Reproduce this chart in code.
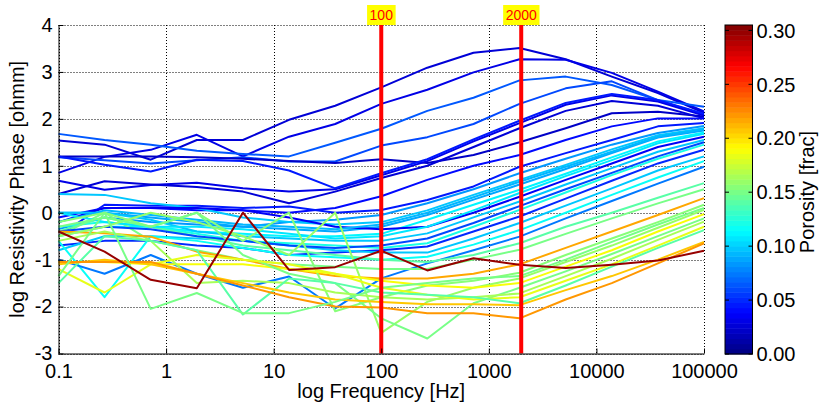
<!DOCTYPE html>
<html>
<head>
<meta charset="utf-8">
<script src="https://cdn.jsdelivr.net/npm/d3@7"></script>
<style>
  body { margin: 0; background: #fff; }
  svg { display: block; font-family: Arial, "Liberation Sans", sans-serif; }
</style>
</head>
<body>
<div id="wrapper"></div>
<script>
const { select, scaleLog, scaleLinear, line, axisLeft, axisBottom, format } = d3;

/* DATA */
const frequencies = [0.1, 0.268, 0.72, 1.93, 5.18, 13.9, 37.3, 100, 268, 720, 1930, 5180, 13900, 37300, 100000];

// upper group: high-phase samples, low porosity
const upperPorosity = [0.025, 0.03, 0.065, 0.06, 0.02, 0.03, 0.025, 0.045];
const upperValues = [
  [1.54, 1.45, 1.13, 1.55, 1.55, 1.98, 2.28, 2.67, 3.09, 3.41, 3.51, 3.27, 2.90, 2.55, 2.13],
  [0.85, 1.19, 1.34, 1.66, 1.2, 1.62, 1.89, 2.32, 2.62, 2.99, 3.27, 3.26, 2.98, 2.58, 2.16],
  [1.68, 1.55, 1.45, 1.32, 1.25, 1.2, 1.49, 1.79, 2.17, 2.45, 2.82, 2.9, 2.72, 2.4, 2.26],
  [1.18, 1.12, 1.05, 1.12, 1.18, 1.09, 1.09, 1.43, 1.61, 1.89, 2.32, 2.65, 2.80, 2.4, 2.09],
  [1.2, 1.2, 1.2, 1.18, 1.15, 1.1, 1.06, 1.14, 1.06, 1.23, 1.5, 1.8, 2.12, 2.15, 2.05],
  [0.68, 0.49, 0.59, 0.64, 0.52, 0.45, 0.5, 0.8, 1.1, 1.52, 1.91, 2.3, 2.5, 2.37, 2.07],
  [0.4, 0.67, 0.6, 0.55, 0.45, 0.2, 0.45, 0.74, 1.0, 1.4, 1.8, 2.17, 2.38, 2.28, 2.01],
  [1.2, 1.02, 0.88, 1.13, 1.1, 0.9, 0.52, 0.84, 1.14, 1.56, 1.96, 2.34, 2.53, 2.4, 2.11],
];

// middle group: blue / cyan samples
const middlePorosity = [0.04, 0.045, 0.085, 0.1, 0.09, 0.11, 0.035, 0.1, 0.12, 0.05, 0.1, 0.115, 0.075, 0.14, 0.15, 0.105, 0.095, 0.06];
const middleValues = [
  [-0.1, 0.1, 0.1, 0.05, 0.05, 0.0, 0.1, 0.35, 0.7, 1.0, 1.23, 1.55, 1.84, 2.01, 2.01],
  [-0.5, 0.17, 0.15, 0.15, 0.1, 0.13, 0.0, 0.06, 0.27, 0.56, 0.98, 1.27, 1.55, 1.84, 1.91],
  [-0.35, -0.1, -0.2, -0.25, -0.3, -0.2, -0.15, -0.05, 0.2, 0.5, 0.84, 1.15, 1.45, 1.7, 1.85],
  [0.4, 0.38, 0.2, 0.1, -0.1, -0.2, -0.25, -0.2, 0.05, 0.38, 0.7, 1.02, 1.35, 1.65, 1.8],
  [0.0, 0.0, -0.1, -0.2, -0.3, -0.35, -0.4, -0.3, -0.05, 0.28, 0.6, 0.93, 1.27, 1.6, 1.75],
  [-0.5, -0.3, -0.3, -0.4, -0.45, -0.5, -0.5, -0.45, -0.15, 0.17, 0.49, 0.83, 1.18, 1.52, 1.71],
  [-0.2, 0.1, 0.1, 0.1, 0.05, -0.1, -0.3, -0.35, -0.3, 0.0, 0.34, 0.7, 1.05, 1.4, 1.62],
  [0.0, 0.0, -0.15, -0.4, -0.5, -0.55, -0.6, -0.6, -0.44, -0.1, 0.24, 0.6, 0.95, 1.3, 1.55],
  [-0.3, -0.2, -0.3, -0.45, -0.6, -0.65, -0.7, -0.75, -0.65, -0.3, 0.06, 0.43, 0.8, 1.15, 1.45],
  [-0.7, -0.6, -0.6, -0.7, -0.75, -0.9, -0.85, -0.8, -0.72, -0.4, -0.08, 0.3, 0.68, 1.05, 1.34],
  [-0.8, -0.5, -0.5, -0.55, -0.6, -0.7, -0.8, -0.85, -0.85, -0.55, -0.22, 0.15, 0.52, 0.9, 1.2],
  [-0.6, -1.8, -0.5, -0.6, -0.75, -0.9, -0.95, -1.0, -0.94, -0.68, -0.37, 0.0, 0.38, 0.75, 1.1],
  [-1.0, -1.3, -0.9, -1.3, -1.6, -1.36, -2.04, -1.4, -1.08, -0.8, -0.51, -0.12, 0.25, 0.62, 0.98],
  [-0.4, -0.1, -0.3, -0.5, -0.7, -0.8, -0.9, -1.0, -1.05, -0.9, -0.65, -0.3, 0.0, 0.32, 0.63],
  [-0.5, 0.0, -0.6, -0.8, -1.0, -1.1, -1.15, -1.2, -1.2, -1.0, -0.79, -0.45, -0.12, 0.2, 0.5],
  [0.0, -0.2, -0.3, -0.3, -0.35, -0.45, -0.55, -0.5, -0.3, 0.05, 0.42, 0.78, 1.12, 1.48, 1.68],
  [-0.2, 0.05, -0.05, -0.15, -0.25, -0.3, -0.35, -0.25, 0.0, 0.33, 0.66, 0.98, 1.3, 1.62, 1.78],
  [-0.4, -0.3, -0.35, -0.5, -0.6, -0.7, -0.75, -0.7, -0.55, -0.22, 0.14, 0.5, 0.85, 1.2, 1.5],
];

// lower group: green / yellow / orange / red samples
const lowerPorosity = [0.215, 0.155, 0.16, 0.19, 0.15, 0.165, 0.185, 0.14, 0.205, 0.22, 0.15, 0.30];
const lowerValues = [
  [-0.4, -0.44, -0.51, -0.83, -1.0, -1.2, -1.35, -1.4, -1.4, -1.3, -1.1, -0.75, -0.4, -0.05, 0.31],
  [-0.2, 0.0, -0.3, 0.0, -0.6, 0.0, -2.1, -1.8, -1.55, -1.45, -1.28, -0.9, -0.55, -0.2, 0.17],
  [-0.5, -0.3, 0.0, -0.2, -0.5, -0.9, 0.0, -2.56, -1.9, -1.6, -1.4, -1.05, -0.7, -0.32, 0.06],
  [-1.05, -1.05, -1.1, -1.1, -1.1, -1.2, -1.3, -1.45, -1.55, -1.6, -1.5, -1.15, -0.8, -0.4, -0.03],
  [-0.3, -0.1, -0.3, 0.0, -0.9, -1.3, -1.5, -2.25, -2.68, -1.93, -1.6, -1.25, -0.88, -0.5, -0.12],
  [-0.6, -0.4, -0.6, -1.5, -1.45, -1.5, -1.7, -1.8, -1.85, -1.8, -1.72, -1.35, -0.98, -0.58, -0.19],
  [-1.2, -1.7, -1.1, -0.9, -1.0, -1.1, -1.3, -1.6, -1.75, -1.85, -1.8, -1.45, -1.1, -0.7, -0.3],
  [-1.5, -0.5, -0.6, -0.8, -2.17, -1.4, -1.5, -1.7, -1.75, -1.8, -1.93, -1.55, -1.15, -0.75, -0.37],
  [-1.1, -1.0, -1.1, -1.3, -1.5, -1.7, -1.85, -1.9, -1.95, -1.95, -1.97, -1.65, -1.35, -1.0, -0.62],
  [-1.05, -1.05, -1.05, -1.3, -1.55, -1.8, -2.0, -2.02, -2.14, -2.14, -2.25, -1.85, -1.5, -1.08, -0.65],
  [-1.35, 0.0, -2.05, -1.71, -2.14, -2.14, -1.9, -1.6, -1.5, -1.4, -1.35, -1.0, -0.62, -0.25, 0.1],
  [-0.4, -0.83, -1.43, -1.61, 0.0, -1.22, -1.16, -0.81, -1.23, -0.97, -1.11, -1.18, -1.11, -1.02, -0.81],
];

const xTicks = [0.1, 1, 10, 100, 1000, 10000, 100000];
const xTickLabels = ["0.1", "1", "10", "100", "1000", "10000", "100000"];
const yTicks = [-3, -2, -1, 0, 1, 2, 3, 4];
const colorTicks = [0, 0.05, 0.1, 0.15, 0.2, 0.25, 0.3];
const markerFreqs = [100, 2000];
const markerLabels = ["100", "2000"];

/* DIMENSIONS */
const dimensions = {
  width: 820,
  height: 404,
  plot: { left: 58.5, right: 704, top: 25, bottom: 353.5 },
  bar: { left: 725, right: 752.5, top: 25, bottom: 354 },
};

/* SCALES */
const xScale = scaleLog()
  .domain([0.1, 100000])
  .range([dimensions.plot.left, dimensions.plot.right]);

const yScale = scaleLinear()
  .domain([-3, 4])
  .range([dimensions.plot.bottom, dimensions.plot.top]);

const colorMax = 0.305;
const jet = (t) => {
  const c = (v) => Math.round(255 * Math.max(0, Math.min(1, v)));
  return `rgb(${c(1.5 - Math.abs(4 * t - 3))},${c(1.5 - Math.abs(4 * t - 2))},${c(1.5 - Math.abs(4 * t - 1))})`;
};
// matlab style 64-level jet
const colorScale = (p) => {
  const idx = Math.min(63, Math.floor((p / colorMax) * 64));
  return jet((idx + 0.5) / 64);
};

const barScale = scaleLinear()
  .domain([0, colorMax])
  .range([dimensions.bar.bottom, dimensions.bar.top]);

/* DRAW */
const svg = select("#wrapper")
  .append("svg")
  .attr("width", dimensions.width)
  .attr("height", dimensions.height);

// grid
const grid = svg.append("g")
  .attr("stroke", "#000")
  .attr("stroke-width", 1)
  .attr("stroke-dasharray", "1,2");

grid.selectAll(".vgrid")
  .data(xTicks)
  .join("line")
  .attr("x1", (d) => Math.round(xScale(d)) + 0.5)
  .attr("x2", (d) => Math.round(xScale(d)) + 0.5)
  .attr("y1", dimensions.plot.top)
  .attr("y2", dimensions.plot.bottom);

grid.selectAll(".hgrid")
  .data(yTicks)
  .join("line")
  .attr("y1", (d) => Math.round(yScale(d)) + 0.5)
  .attr("y2", (d) => Math.round(yScale(d)) + 0.5)
  .attr("x1", dimensions.plot.left)
  .attr("x2", dimensions.plot.right);

// series
const series = [];
upperValues.forEach((v, i) => series.push({ p: upperPorosity[i], v }));
middleValues.forEach((v, i) => series.push({ p: middlePorosity[i], v }));
lowerValues.forEach((v, i) => series.push({ p: lowerPorosity[i], v }));

const lineGenerator = line()
  .x((d, i) => xScale(frequencies[i]))
  .y((d) => yScale(d));

svg.append("g")
  .selectAll("path")
  .data(series)
  .join("path")
  .attr("d", (d) => lineGenerator(d.v))
  .attr("fill", "none")
  .attr("stroke", (d) => colorScale(d.p))
  .attr("stroke-width", 2)
  .attr("stroke-linejoin", "round");

// marker lines
svg.append("g")
  .selectAll("line")
  .data(markerFreqs)
  .join("line")
  .attr("x1", (d) => xScale(d))
  .attr("x2", (d) => xScale(d))
  .attr("y1", dimensions.plot.top)
  .attr("y2", dimensions.plot.bottom)
  .attr("stroke", "#ff0000")
  .attr("stroke-width", 4);

const markerGroup = svg.append("g")
  .selectAll("g")
  .data(markerFreqs)
  .join("g")
  .attr("transform", (d) => `translate(${xScale(d)},15)`);

markerGroup.append("text")
  .text((d, i) => markerLabels[i])
  .attr("text-anchor", "middle")
  .attr("dy", "0.36em")
  .attr("font-size", 14)
  .attr("fill", "#ff0000")
  .each(function () {
    const b = this.getBBox();
    select(this.parentNode)
      .insert("rect", "text")
      .attr("x", b.x - 2.5)
      .attr("y", -10)
      .attr("width", b.width + 5)
      .attr("height", 20)
      .attr("fill", "#ffff00");
  });

// axes
const xAxis = axisBottom(xScale)
  .tickValues(xTicks)
  .tickFormat((d, i) => xTickLabels[i])
  .tickSizeInner(-5)
  .tickSizeOuter(0)
  .tickPadding(10);

svg.append("g")
  .attr("transform", `translate(0,${dimensions.plot.bottom})`)
  .call(xAxis)
  .call((g) => g.selectAll("text").attr("font-size", 20).attr("fill", "#000"))
  .call((g) => g.select(".domain").attr("stroke", "#000"));

const yAxis = axisLeft(yScale)
  .tickValues(yTicks)
  .tickFormat((d) => String(d))
  .tickSizeInner(-5)
  .tickSizeOuter(0)
  .tickPadding(6);

svg.append("g")
  .attr("transform", `translate(${dimensions.plot.left},0)`)
  .call(yAxis)
  .call((g) => g.selectAll("text").attr("font-size", 20).attr("fill", "#000"))
  .call((g) => g.select(".domain").attr("stroke", "#000"));

svg.append("text")
  .text("log Frequency [Hz]")
  .attr("x", (dimensions.plot.left + dimensions.plot.right) / 2)
  .attr("y", 398)
  .attr("text-anchor", "middle")
  .attr("font-size", 20);

svg.append("text")
  .text("log Resistivity Phase [ohmm]")
  .attr("transform", `translate(24,${(dimensions.plot.top + dimensions.plot.bottom) / 2}) rotate(-90)`)
  .attr("text-anchor", "middle")
  .attr("font-size", 20);

// colorbar
const bands = d3.range(64);
svg.append("g")
  .selectAll("rect")
  .data(bands)
  .join("rect")
  .attr("x", dimensions.bar.left)
  .attr("width", dimensions.bar.right - dimensions.bar.left)
  .attr("y", (d) => barScale(((d + 1) / 64) * colorMax))
  .attr("height", (d) => barScale((d / 64) * colorMax) - barScale(((d + 1) / 64) * colorMax) + 0.5)
  .attr("fill", (d) => jet((d + 0.5) / 64));

svg.append("rect")
  .attr("x", dimensions.bar.left)
  .attr("y", dimensions.bar.top)
  .attr("width", dimensions.bar.right - dimensions.bar.left)
  .attr("height", dimensions.bar.bottom - dimensions.bar.top)
  .attr("fill", "none")
  .attr("stroke", "#000");

const cbTicks = svg.append("g")
  .selectAll("g")
  .data(colorTicks)
  .join("g")
  .attr("transform", (d) => `translate(0,${barScale(d)})`);

cbTicks.append("line")
  .attr("x1", dimensions.bar.left)
  .attr("x2", dimensions.bar.left + 4)
  .attr("stroke", "#000");
cbTicks.append("line")
  .attr("x1", dimensions.bar.right - 4)
  .attr("x2", dimensions.bar.right)
  .attr("stroke", "#000");
cbTicks.append("text")
  .text((d) => format(".2f")(d))
  .attr("x", dimensions.bar.right + 4)
  .attr("dy", "0.36em")
  .attr("font-size", 20);

svg.append("text")
  .text("Porosity [frac]")
  .attr("transform", `translate(814,192) rotate(-90)`)
  .attr("text-anchor", "middle")
  .attr("font-size", 20);
</script>
</body>
</html>
